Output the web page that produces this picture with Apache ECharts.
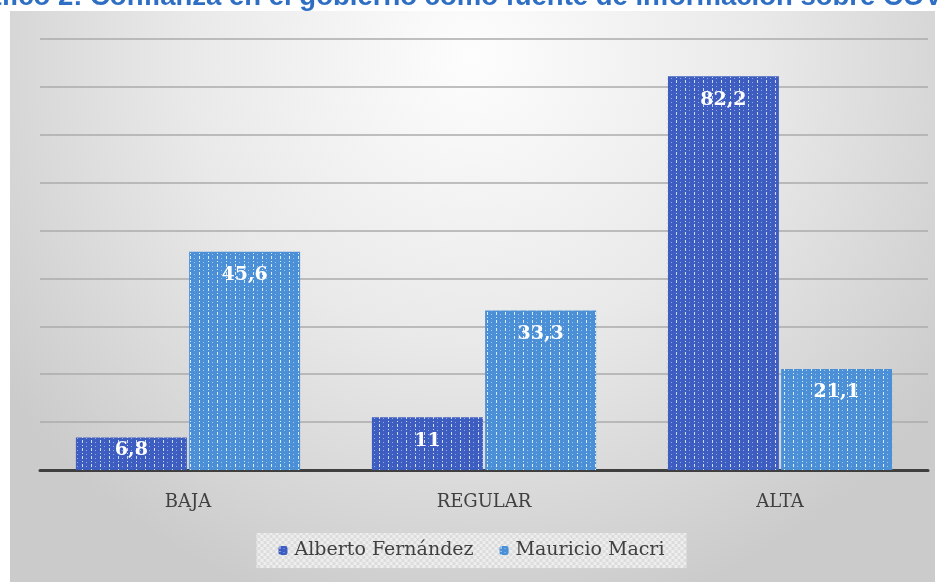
<!DOCTYPE html>
<html>
<head>
<meta charset="utf-8">
<script src="https://cdn.jsdelivr.net/npm/echarts@6/dist/echarts.min.js"></script>
<style>
  html, body { margin: 0; padding: 0; background: #ffffff; }
  #chart { width: 943px; height: 582px; }
</style>
</head>
<body>
<div id="chart"></div>
<script>
// Confianza en el gobierno como fuente de información sobre COVID-19
const categories = ['BAJA', 'REGULAR', 'ALTA'];
const seriesNames = ['Alberto Fernández', 'Mauricio Macri'];
const fernandez = [6.8, 11, 82.2];
const macri = [45.6, 33.3, 21.1];
const yMax = 90;
const yInterval = 10;

// Dotted fill tile for the bars
function dotPattern(base, dot, w, h) {
  const c = document.createElement('canvas');
  c.width = w; c.height = h;
  const g = c.getContext('2d');
  g.fillStyle = base;
  g.fillRect(0, 0, w, h);
  g.fillStyle = dot;
  g.fillRect(1, 0, 1, 3);
  g.fillRect(1, 5, 1, 1);
  g.globalAlpha = 0.6;
  g.fillRect(5, 2, 1, 1);
  g.fillRect(5, 6, 1, 1);
  return { image: c, repeat: 'repeat' };
}

// Light checkered fill for the legend box
function checkPattern() {
  const c = document.createElement('canvas');
  c.width = 6; c.height = 6;
  const g = c.getContext('2d');
  g.fillStyle = '#dcdcdc';
  g.fillRect(0, 0, 6, 6);
  g.fillStyle = '#eeeeee';
  g.fillRect(0, 0, 3, 3);
  g.fillRect(3, 3, 3, 3);
  return { image: c, repeat: 'repeat' };
}

const darkFill = dotPattern('#3d5ec0', '#d3dcf5', 9, 8);
const lightFill = dotPattern('#4b90d7', '#dcecfb', 9, 8);

const fmt = v => String(v).replace('.', ',');

function buildData(values) {
  return values.map(v => v < 10
    ? { value: v, label: { distance: 3 } }
    : v);
}

const serifFont = '"DejaVu Serif", "Liberation Serif", serif';

const chart = echarts.init(document.getElementById('chart'));
chart.setOption({
  backgroundColor: '#ffffff',
  animation: false,
  graphic: [
    {
      type: 'rect',
      z: -10,
      shape: { x: 10, y: 11, width: 925, height: 575 },
      style: {
        fill: {
          type: 'radial', x: 0.5, y: 0.08, r: 1.0,
          colorStops: [
            { offset: 0, color: '#fdfdfd' },
            { offset: 0.5, color: '#e9e9e9' },
            { offset: 1, color: '#cbcbcb' }
          ]
        }
      },
      silent: true
    },
    {
      type: 'text',
      left: -46,
      top: -17,
      z: -5,
      style: {
        text: 'Gráfico 2: Confianza en el gobierno como fuente de información sobre COVID-19',
        fill: '#2e6fc4',
        font: 'bold 27.5px "Liberation Sans", Arial, sans-serif'
      },
      silent: true
    }
  ],
  grid: { left: 40, right: 15, top: 39, bottom: 112 },
  legend: {
    data: seriesNames,
    bottom: 14,
    left: 'center',
    itemWidth: 9,
    itemHeight: 9,
    itemGap: 26,
    padding: [8, 22, 8, 22],
    backgroundColor: checkPattern(),
    textStyle: {
      color: '#404040',
      fontSize: 19,
      fontFamily: serifFont,
      padding: [0, 0, 0, 2]
    }
  },
  xAxis: {
    type: 'category',
    data: categories,
    axisLine: { lineStyle: { color: '#3f3f3f', width: 3 } },
    axisTick: { show: false },
    axisLabel: {
      color: '#404040',
      fontSize: 18,
      margin: 23,
      fontFamily: serifFont
    }
  },
  yAxis: {
    type: 'value',
    min: 0,
    max: yMax,
    interval: yInterval,
    axisLine: { show: false },
    axisTick: { show: false },
    axisLabel: { show: false },
    splitLine: { lineStyle: { color: '#ababab', width: 1.5 } }
  },
  series: [
    {
      name: seriesNames[0],
      type: 'bar',
      data: buildData(fernandez),
      barWidth: 111,
      barGap: '2%',
      itemStyle: { color: darkFill },
      label: {
        show: true,
        position: 'insideTop',
        distance: 14,
        color: '#ffffff',
        fontSize: 19,
        fontWeight: 'bold',
        fontFamily: serifFont,
        formatter: p => fmt(p.value)
      }
    },
    {
      name: seriesNames[1],
      type: 'bar',
      data: buildData(macri),
      barWidth: 111,
      itemStyle: { color: lightFill },
      label: {
        show: true,
        position: 'insideTop',
        distance: 14,
        color: '#ffffff',
        fontSize: 19,
        fontWeight: 'bold',
        fontFamily: serifFont,
        formatter: p => fmt(p.value)
      }
    }
  ]
});
</script>
</body>
</html>
